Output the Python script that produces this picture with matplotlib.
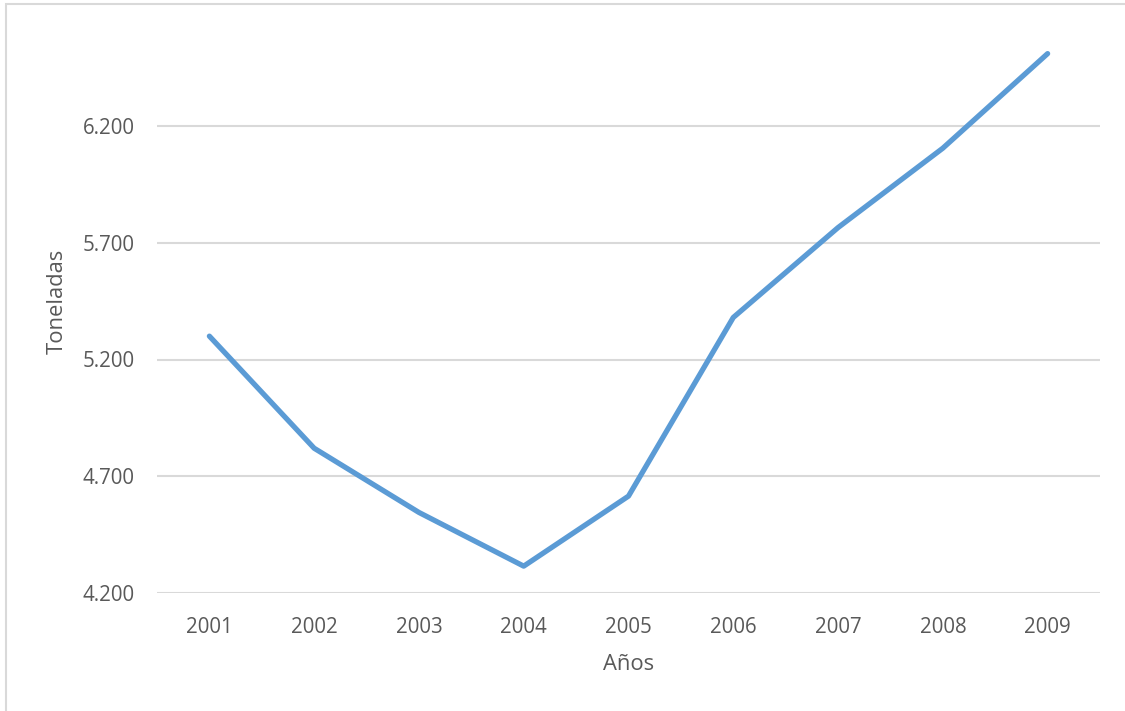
import matplotlib.pyplot as plt
from matplotlib.patches import Rectangle

# Daten
anios = ['2001', '2002', '2003', '2004', '2005', '2006', '2007', '2008', '2009']
toneladas = [5300, 4820, 4545, 4315, 4615, 5380, 5765, 6105, 6510]
yticks = [4200, 4700, 5200, 5700, 6200]

plt.rcParams['font.family'] = ['Open Sans', 'DejaVu Sans']

fig = plt.figure(figsize=(11.25, 7.11), dpi=100)
W, H = 1125, 711
# Rahmen des Diagrammbereichs (nur links und oben sichtbar)
fig.patches.append(Rectangle((6 / W, -0.1), 1.2, (H - 4) / H + 0.1,
                             transform=fig.transFigure, fill=False,
                             edgecolor='#d9d9d9', linewidth=1.5))

ax = fig.add_axes([157 / W, (H - 593) / H, (1100 - 157) / W, (593 - 10) / H])
x = range(len(anios))
ax.plot(x, toneladas, color='#5b9bd5', linewidth=3.8, solid_capstyle='round',
        solid_joinstyle='round')

ax.set_xlim(-0.5, len(anios) - 0.5)
ax.set_ylim(4200, 4200 + (593 - 10) / 116.75 * 500)
ax.set_xticks(list(x))
ax.set_xticklabels(anios)
ax.set_yticks(yticks)
ax.set_yticklabels([f'{v:,}'.replace(',', '.') for v in yticks])
ax.grid(axis='y', color='#d9d9d9', linewidth=1.5)
ax.set_axisbelow(True)
for s in ax.spines.values():
    s.set_visible(False)
ax.tick_params(length=0, labelsize=14.8, colors='#595959')
ax.tick_params(axis='y', pad=16)
ax.tick_params(axis='x', pad=17)

ax.set_xlabel('Años', fontsize=15.8, color='#595959', labelpad=12)
ax.set_ylabel('Toneladas', fontsize=15.8, color='#595959', labelpad=11)

fig.savefig('out.png', dpi=100)
